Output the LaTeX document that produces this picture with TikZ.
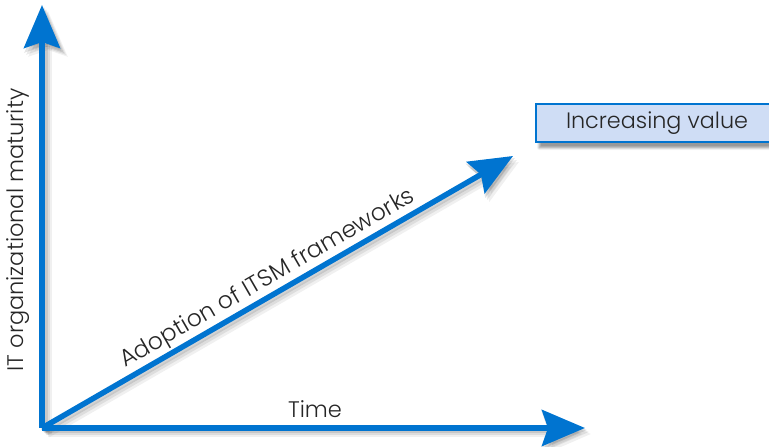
\documentclass[tikz,border=0pt]{standalone}
\usepackage{fontspec}
\setmainfont{Poppins}[UprightFont=* Light]
\usetikzlibrary{arrows.meta,shadows.blur}
\definecolor{axisblue}{HTML}{0074D0}
\definecolor{boxfill}{HTML}{CFDDF5}
\tikzset{
  axisarrow/.style={draw=axisblue, line width=5.5pt, -{Stealth[length=43pt,width=36pt,inset=6pt]}},
  shadowarrow/.style={draw=black, line width=7pt, -{Stealth[length=45pt,width=38pt,inset=6pt]}},
  labeltext/.style={font=\fontsize{22.5}{26}\selectfont, text=black!85, inner sep=1pt},
  valuebox/.style={draw=axisblue, line width=2pt, fill=boxfill, minimum height=38pt, text=black!85,
     font=\fontsize{22.3}{26}\selectfont,
     blur shadow={shadow xshift=3pt, shadow yshift=-6pt, shadow blur steps=6, shadow opacity=40}}
}
\begin{document}
\begin{tikzpicture}[x=1pt,y=1pt]
\useasboundingbox (0,0) rectangle (769,447);
\coordinate (O) at (42,19);
\coordinate (Ytip) at (42,442);
\coordinate (Xtip) at (585,19);
\coordinate (Dtip) at (513,291);
% shadows
\foreach \d/\o in {2/0.10,4/0.08,6/0.06}{
  \draw[shadowarrow, opacity=\o] ([shift={(\d,-\d)}]O) -- ([shift={(\d,-\d)}]Ytip);
  \draw[shadowarrow, opacity=\o] ([shift={(\d,-\d)}]O) -- ([shift={(\d,-\d)}]Xtip);
  \draw[shadowarrow, opacity=\o] ([shift={(\d,-\d)}]O) -- ([shift={(\d,-\d)}]Dtip);
}
% axes
\draw[axisarrow] (O) -- (Ytip);
\draw[axisarrow] (O) -- (Xtip);
\draw[axisarrow] (O) -- (Dtip);
% labels
\node[labeltext, rotate=90] (ylab) at (18,217) {IT organizational maturity};
\node[labeltext] (xlab) at (315,38) {Time};
\node[labeltext, rotate=30, font=\fontsize{23.5}{26}\selectfont] (dlab) at (268,168) {Adoption of ITSM frameworks};
\node[valuebox, anchor=west, minimum width=250pt] (val) at (535,324) {\hspace*{-8pt}Increasing value};
\end{tikzpicture}
\end{document}
